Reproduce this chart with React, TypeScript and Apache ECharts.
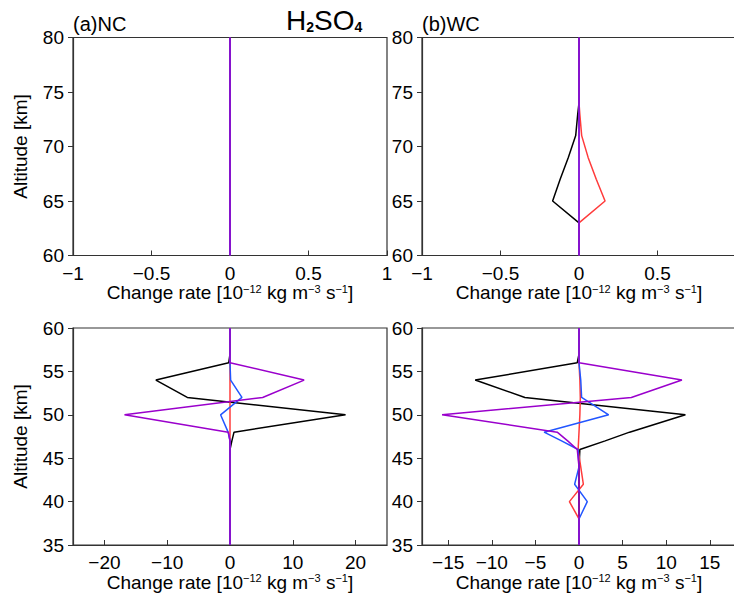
import React, { useEffect, useRef } from "react";
import * as echarts from "echarts";

// Altitude levels [km]
const topAlt = [60, 63, 65, 67, 69, 71, 73, 74, 80];
const botAlt = [35, 38, 40, 42, 44, 46, 47, 48, 50, 52, 54, 56, 57, 60];

// (a) NC, upper (60-80 km)
const ncTopBlack = [0, 0, 0, 0, 0, 0, 0, 0, 0];
const ncTopRed = [0, 0, 0, 0, 0, 0, 0, 0, 0];
const ncTopBlue = [0, 0, 0, 0, 0, 0, 0, 0, 0];
const ncTopPurple = [0, 0, 0, 0, 0, 0, 0, 0, 0];

// (b) WC, upper (60-80 km)
const wcTopBlack = [0, 0, -0.168, -0.12, -0.068, -0.021, -0.008, 0, 0];
const wcTopRed = [0, 0, 0.166, 0.11, 0.058, 0.017, 0.005, 0, 0];
const wcTopBlue = [0, 0, 0, 0, 0, 0, 0, 0, 0];
const wcTopPurple = [0, 0, 0, 0, 0, 0, 0, 0, 0];

// (a) NC, lower (35-60 km)
const ncBotBlack = [0, 0, 0, 0, 0, 0, 0.3, 0.64, 18.4, -6.8, -11.8, -0.2, 0, 0];
const ncBotRed = [0, 0, 0, 0, 0, 0, 0, 0, 0, 0, 0, 0, 0, 0];
const ncBotBlue = [0, 0, 0, 0, 0, 0, 0, -0.3, -1.5, 1.9, 0.1, 0, 0, 0];
const ncBotPurple = [0, 0, 0, 0, 0, 0, 0, -0.27, -16.8, 5.2, 11.8, 0, 0, 0];

// (b) WC, lower (35-60 km)
const wcBotBlack = [0, 0, 0, 0, 0, 0.1, 3.0, 5.8, 12.2, -6.2, -11.9, -0.2, 0, 0];
const wcBotRed = [0, 0, -1.1, 0.5, 0.2, -0.1, -0.05, 0, 0.1, 0.15, 0.1, 0, 0, 0];
const wcBotBlue = [0, 0, 0.95, -0.5, 0, -0.1, -2.0, -4.0, 3.4, 0.3, 0.2, 0, 0, 0];
const wcBotPurple = [0, 0, 0, 0, 0, -0.2, -1.3, -2.5, -15.7, 6.0, 11.8, 0, 0, 0];

const topTicks = [-1, -0.5, 0, 0.5, 1];
const topRightLabels = [-1, -0.5, 0, 0.5];
const ncBotTicks = [-20, -10, 0, 10, 20];
const wcBotTicks = [-15, -10, -5, 0, 5, 10, 15];

const COLORS = { black: "#000000", red: "#ff3b3b", blue: "#2255ff", purple: "#9a00cc" };
const FONT = "Liberation Sans";
const AXIS_COLOR = "#333333";

const fmt = (v: number) => String(v).replace("-", "\u2212");

export default function App() {
  const ref = useRef<HTMLDivElement>(null);

  useEffect(() => {
    if (!ref.current) return;
    const chart = echarts.init(ref.current, undefined, { renderer: "svg" });

    const grids = [
      { left: 73, top: 37.5, width: 314, height: 218 },
      { left: 422, top: 37.5, width: 314, height: 218 },
      { left: 73, top: 328, width: 314, height: 217 },
      { left: 422, top: 328, width: 314, height: 217 },
    ].map((g) => ({
      ...g,
      show: true,
      borderColor: AXIS_COLOR,
      borderWidth: 1.2,
      backgroundColor: "transparent",
      containLabel: false,
      outerBoundsMode: "none",
    }));

    const xName = "Change rate [10{s|\u221212} kg m{s|\u22123} s{s|\u22121}]";
    const mkX = (gridIndex: number, min: number, max: number, ticks: number[], labels: number[]) => ({
      type: "value",
      gridIndex,
      min,
      max,
      name: xName,
      nameLocation: "middle",
      nameGap: 27,
      nameTextStyle: {
        fontFamily: FONT,
        fontSize: 19,
        color: "#000",
        rich: {
          s: { fontFamily: FONT, fontSize: 11, verticalAlign: "top", lineHeight: 12, color: "#000", padding: [0, 0, 0, 0] },
        },
      },
      axisLine: { show: true, onZero: false, lineStyle: { color: AXIS_COLOR, width: 1.2 } },
      axisTick: { show: true, inside: true, length: 5, customValues: ticks, lineStyle: { color: AXIS_COLOR } },
      axisLabel: {
        show: true,
        customValues: labels,
        formatter: (v: number) => fmt(v),
        fontFamily: FONT,
        fontSize: 19,
        color: "#000",
        margin: 8,
        hideOverlap: false,
      },
      splitLine: { show: false },
    });

    const mkY = (gridIndex: number, min: number, max: number, withName: boolean) => ({
      type: "value",
      gridIndex,
      min,
      max,
      interval: 5,
      name: withName ? "Altitude [km]" : "",
      nameLocation: "middle",
      nameGap: 43,
      nameTextStyle: { fontFamily: FONT, fontSize: 19, color: "#000" },
      axisLine: { show: true, onZero: false, lineStyle: { color: AXIS_COLOR, width: 1.2 } },
      axisTick: { show: true, inside: false, length: 5, lineStyle: { color: AXIS_COLOR } },
      axisLabel: { show: true, fontFamily: FONT, fontSize: 19, color: "#000", margin: 9 },
      splitLine: { show: false },
    });

    const xAxis = [
      mkX(0, -1, 1, topTicks, topTicks),
      mkX(1, -1, 1, topTicks, topRightLabels),
      mkX(2, -25, 25, ncBotTicks, ncBotTicks),
      mkX(3, -18, 18, wcBotTicks, wcBotTicks),
    ];
    const yAxis = [mkY(0, 60, 80, true), mkY(1, 60, 80, false), mkY(2, 35, 60, true), mkY(3, 35, 60, false)];

    const panels = [
      { alt: topAlt, sets: [ncTopBlack, ncTopRed, ncTopBlue, ncTopPurple] },
      { alt: topAlt, sets: [wcTopBlack, wcTopRed, wcTopBlue, wcTopPurple] },
      { alt: botAlt, sets: [ncBotBlack, ncBotRed, ncBotBlue, ncBotPurple] },
      { alt: botAlt, sets: [wcBotBlack, wcBotRed, wcBotBlue, wcBotPurple] },
    ];
    const cols = [COLORS.black, COLORS.red, COLORS.blue, COLORS.purple];
    const series: any[] = [];
    panels.forEach((p, pi) => {
      p.sets.forEach((vals, si) => {
        series.push({
          type: "line",
          xAxisIndex: pi,
          yAxisIndex: pi,
          data: p.alt.map((a, i) => [vals[i], a]),
          symbol: "none",
          lineStyle: { color: cols[si], width: 1.5 },
          itemStyle: { color: cols[si] },
          z: 2 + si,
          clip: true,
        });
      });
    });

    chart.setOption({
      animation: false,
      backgroundColor: "#ffffff",
      grid: grids,
      xAxis,
      yAxis,
      series,
      graphic: [
        {
          type: "text",
          left: 73,
          top: 14,
          style: { text: "(a)NC", fontFamily: FONT, fontSize: 20, fill: "#000" },
        },
        {
          type: "text",
          left: 422,
          top: 14,
          style: { text: "(b)WC", fontFamily: FONT, fontSize: 20, fill: "#000" },
        },
        {
          type: "text",
          left: 286,
          top: 6,
          style: {
            text: "{m|H}{b|2}{m|SO}{b|4}",
            rich: {
              m: { fontFamily: FONT, fontSize: 28, fill: "#000", verticalAlign: "bottom", lineHeight: 30 },
              b: { fontFamily: FONT, fontSize: 14, fontWeight: "bold", fill: "#000", verticalAlign: "bottom", lineHeight: 22 },
            },
          },
        },
      ],
    });

    return () => chart.dispose();
  }, []);

  return (
    <div
      ref={ref}
      style={{ position: "fixed", left: 0, top: 0, width: 734, height: 596, background: "#fff" }}
    />
  );
}
